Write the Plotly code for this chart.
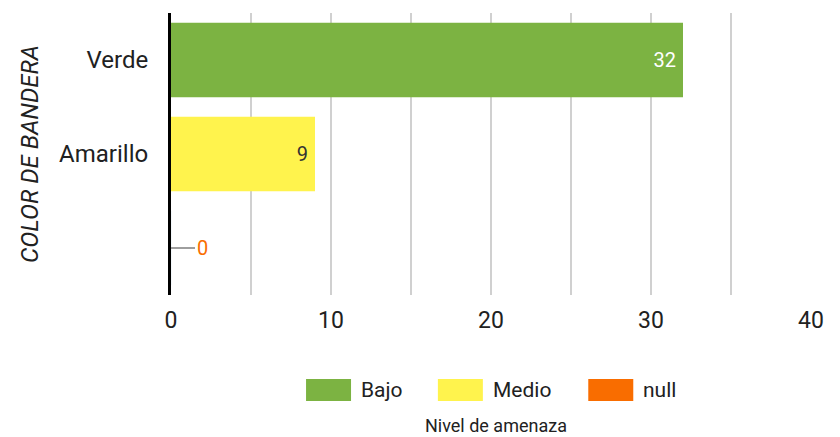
import plotly.graph_objects as go

categories = ["Verde", "Amarillo", " "]
values = [32, 9, 0]
levels = ["Bajo", "Medio", "null"]
colors = ["#7cb342", "#fff34d", "#f96d00"]
label_colors = ["#ffffff", "#333333", "#f96d00"]
tick_vals = [0, 5, 10, 15, 20, 25, 30, 35, 40]
tick_text = ["0", "", "10", "", "20", "", "30", "", "40"]

FONT = "Roboto"
TXT = "#212121"
fig = go.Figure()

for cat, val, lvl, col, lcol in zip(categories, values, levels, colors, label_colors):
    if val > 0:
        fig.add_trace(go.Bar(
            y=[cat], x=[val], orientation="h", name=lvl,
            marker=dict(color=col, line=dict(width=0)),
            text=[str(val) + "\u2009"], textposition="inside", insidetextanchor="end",
            textfont=dict(color=lcol, size=20, family=FONT),
            showlegend=False,
        ))
    else:
        fig.add_trace(go.Bar(
            y=[cat], x=[val], orientation="h", name=lvl,
            marker=dict(color=col), showlegend=False,
        ))
        fig.add_annotation(
            x=val, y=cat, xref="x", yref="y", text=str(val),
            showarrow=True, arrowhead=0, arrowwidth=2, arrowcolor="#9e9e9e",
            ax=24, ay=0, xanchor="left",
            font=dict(color=lcol, size=20, family=FONT),
        )

# custom legend (wide swatches like the reference)
swatch_x0 = [0.211, 0.417, 0.652]
for lvl, col, lx in zip(levels, colors, swatch_x0):
    fig.add_shape(type="rect", xref="paper", yref="paper",
                  x0=lx, x1=lx + 0.0703, y0=-0.298, y1=-0.376,
                  fillcolor=col, line=dict(width=0))
    fig.add_annotation(xref="paper", yref="paper", x=lx + 0.0828, y=-0.337,
                       text=lvl, showarrow=False, xanchor="left", yanchor="middle",
                       font=dict(size=21, family=FONT, color=TXT))
fig.add_annotation(xref="paper", yref="paper", x=0.508, y=-0.462,
                   text="Nivel de amenaza", showarrow=False,
                   xanchor="center", yanchor="middle",
                   font=dict(size=18, family=FONT, color=TXT))

fig.update_layout(
    width=832, height=429,
    margin=dict(l=163, r=29, t=5, b=142),
    plot_bgcolor="white", paper_bgcolor="white",
    bargap=0.21, barmode="overlay",
    font=dict(family=FONT, size=20, color=TXT),
    showlegend=False,
    xaxis=dict(range=[0, 40], tickvals=tick_vals, ticktext=tick_text,
               showgrid=True, gridcolor="#d0d0d0", gridwidth=2,
               zeroline=False, showline=False, ticks="", ticklabelstandoff=9,
               tickfont=dict(size=23, family=FONT, color=TXT)),
    yaxis=dict(categoryorder="array", categoryarray=categories[::-1],
               showline=True, linecolor="black", linewidth=3,
               showgrid=False, ticks="", ticklabelstandoff=15,
               tickfont=dict(size=24, family=FONT, color=TXT),
               title=dict(text="<i>COLOR DE BANDERA</i>", standoff=14,
                          font=dict(size=24, family=FONT, color=TXT))),
)

fig.write_html("out.html")
